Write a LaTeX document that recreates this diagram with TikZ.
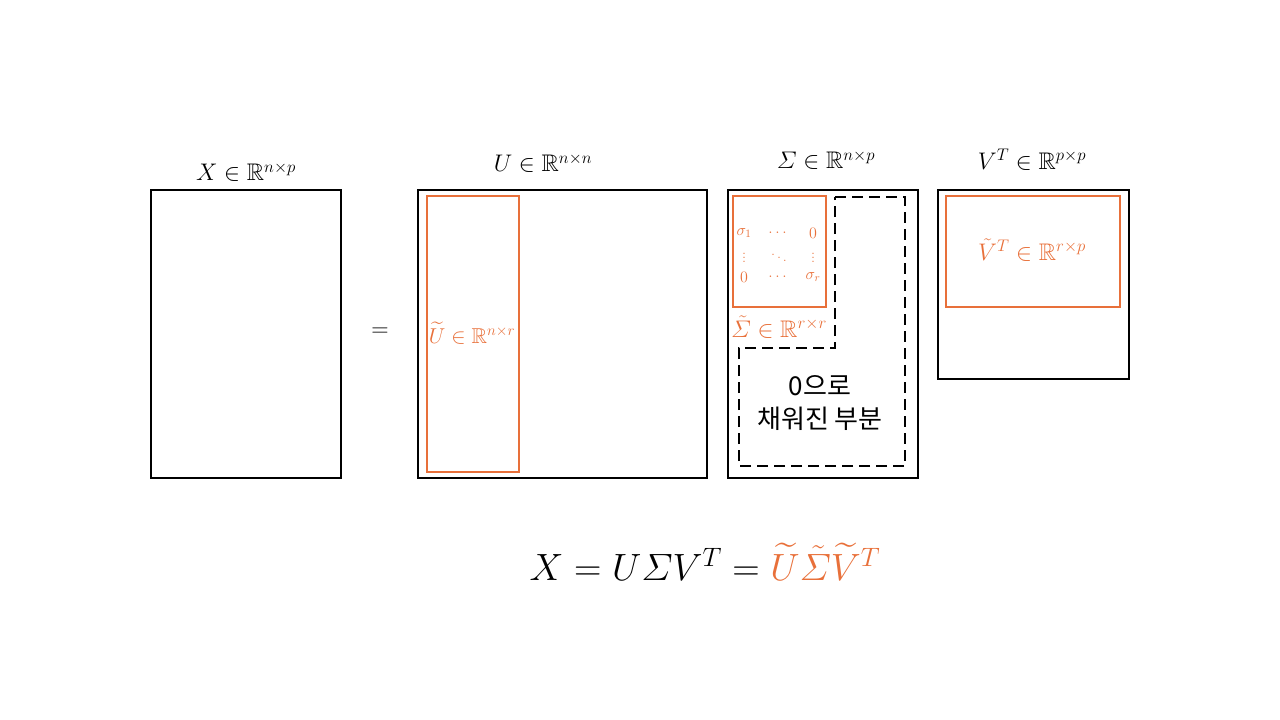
\RequirePackage{fix-cm}
\documentclass[tikz,border=0pt]{standalone}
\usepackage{amsmath,amssymb}
\usepackage[no-math]{fontspec}
\newfontfamily\krfont{Noto Sans CJK KR}
\definecolor{orng}{HTML}{E8703A}
\begin{document}
\begin{tikzpicture}[x=1pt,y=-1pt,
  mat/.style={draw=black,line width=1.6pt,inner sep=0pt,rectangle},
  sub/.style={draw=orng,line width=1.5pt,inner sep=0pt,rectangle},
  lbl/.style={font=\fontsize{24}{28}\selectfont,inner sep=0pt},
  olbl/.style={font=\fontsize{24}{28}\selectfont,inner sep=0pt,text=orng},
  ent/.style={font=\fontsize{16}{18}\selectfont,inner sep=0pt,text=orng}]
\useasboundingbox (0,0) rectangle (1280,720);
% matrices
\node[mat,minimum width=190pt,minimum height=288pt] (X) at (246,334) {};
\node[mat,minimum width=289pt,minimum height=288pt] (U) at (562.5,334) {};
\node[mat,minimum width=190pt,minimum height=288pt] (S) at (823,334) {};
\node[mat,minimum width=191pt,minimum height=189pt] (V) at (1033.5,284.5) {};
% sub-blocks
\node[sub,minimum width=92pt,minimum height=276pt] (Ut) at (473,334) {};
\node[sub,minimum width=93pt,minimum height=111pt] (St) at (779.5,251.5) {};
\node[sub,minimum width=174pt,minimum height=111pt] (Vt) at (1033,251.5) {};
% dashed zero region
\draw[line width=1.6pt,dash pattern=on 11pt off 6pt]
  (835,197) -- (905,197) -- (905,466) -- (739,466) -- (739,348) -- (835,348) -- cycle;
% top labels
\node[lbl] (lX) at (246,172) {$X\in\mathbb{R}^{n\times p}$};
\node[lbl] (lU) at (543,163) {$U\in\mathbb{R}^{n\times n}$};
\node[lbl] (lS) at (826,160) {$\varSigma\in\mathbb{R}^{n\times p}$};
\node[lbl] (lV) at (1032,160) {$V^{T}\in\mathbb{R}^{p\times p}$};
\node[lbl] (eq) at (380,332) {$=$};
% orange labels
\node[olbl,font=\fontsize{21.5}{25}\selectfont] (lUt) at (472,333) {$\widetilde{U}\in\mathbb{R}^{n\times r}$};
\node[olbl] (lSt) at (779,327) {$\tilde{\varSigma}\in\mathbb{R}^{r\times r}$};
\node[olbl] (lVt) at (1032,250) {$\tilde{V}^{T}\in\mathbb{R}^{r\times p}$};
% sigma entries
\node[ent] (e11) at (744,233) {$\sigma_1$};
\node[ent] (e12) at (779,233) {$\dots$};
\node[ent] (e13) at (813,233) {$0$};
\node[ent] (e21) at (744,255) {$\vdots$};
\node[ent] (e22) at (779,255) {$\ddots$};
\node[ent] (e23) at (813,255) {$\vdots$};
\node[ent] (e31) at (744,277) {$0$};
\node[ent] (e32) at (779,277) {$\dots$};
\node[ent] (e33) at (813,277) {$\sigma_r$};
% Korean text
\node[font=\krfont\fontsize{26}{33}\selectfont,align=center,inner sep=0pt] (zero) at (820,403) {0으로\\채워진 부분};
% equation
\node[font=\fontsize{38}{44}\selectfont,inner sep=0pt] (main) at (705,562)
  {$X=U\varSigma V^{T}=\textcolor{orng}{\widetilde{U}\tilde{\varSigma}\widetilde{V}{}^{T}}$};
\end{tikzpicture}
\end{document}
